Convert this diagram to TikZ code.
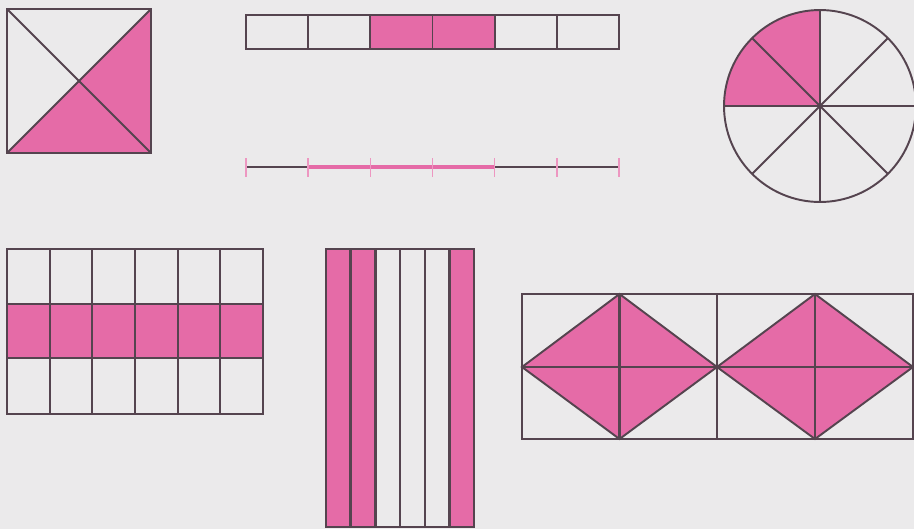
\documentclass[tikz,border=0pt]{standalone}
\usepackage{pgf,tikz}
\usetikzlibrary{arrows}
\usepackage{xcolor}
\definecolor{shade}{HTML}{E56BA7}
\definecolor{ink}{HTML}{55444F}
\definecolor{paper}{HTML}{EBEAEB}
\tikzset{
    part/.style={fill=shade},
    frame/.style={draw=ink, line width=1.6pt},
    cut/.style={draw=ink, line width=1.1pt},
    tickline/.style={draw=shade!70, line width=0.8pt},
    piece/.style={draw=shade, line width=2.2pt}
}
\begin{document}
\begin{tikzpicture}[x=0.02cm,y=-0.02cm]
    \fill[paper] (0,0) rectangle (914,529);
    \useasboundingbox (0,0) rectangle (914,529);
    % square cut in four
    \fill[part] (7,153) -- (151,9) -- (151,153) -- cycle;
    \draw[cut] (7,9) -- (151,153);
    \draw[cut] (7,153) -- (151,9);
    \draw[frame] (7,9) rectangle (151,153);
    % strip of six
    \fill[part] (370.3,15) rectangle (494.7,49);
    \draw[cut] (308.2,15) -- (308.2,49);
    \draw[cut] (370.3,15) -- (370.3,49);
    \draw[cut] (432.5,15) -- (432.5,49);
    \draw[cut] (494.7,15) -- (494.7,49);
    \draw[cut] (556.8,15) -- (556.8,49);
    \draw[frame] (246,15) rectangle (619,49);
    % segment
    \draw[cut] (246,167) -- (619,167);
    \draw[piece] (308.2,167) -- (494.7,167);
    \draw[tickline] (246,158) -- (246,177);
    \draw[tickline] (308.2,158) -- (308.2,177);
    \draw[tickline] (370.3,158) -- (370.3,177);
    \draw[tickline] (432.5,158) -- (432.5,177);
    \draw[tickline] (494.7,158) -- (494.7,177);
    \draw[tickline] (556.8,158) -- (556.8,177);
    \draw[tickline] (619,158) -- (619,177);
    % circle in eight
    \fill[part] (820,106) -- (724,106) arc[start angle=180, end angle=90, radius=1.92cm] -- cycle;
    \draw[cut] (820,106) -- ++(45:1.92cm);
    \draw[cut] (820,106) -- ++(135:1.92cm);
    \draw[cut] (820,106) -- ++(225:1.92cm);
    \draw[cut] (820,106) -- ++(315:1.92cm);
    \draw[frame] (820,106) -- ++(0:1.92cm);
    \draw[frame] (820,106) -- ++(90:1.92cm);
    \draw[frame] (820,106) -- ++(180:1.92cm);
    \draw[frame] (820,106) -- ++(270:1.92cm);
    \draw[cut] (820,106) circle (1.92cm);
    % grid 6 x 3
    \fill[part] (7,304) rectangle (263,358);
    \draw[cut] (49.7,249) -- (49.7,414);
    \draw[cut] (92.3,249) -- (92.3,414);
    \draw[cut] (135,249) -- (135,414);
    \draw[cut] (177.7,249) -- (177.7,414);
    \draw[cut] (220.3,249) -- (220.3,414);
    \draw[frame] (7,304) -- (263,304);
    \draw[frame] (7,358) -- (263,358);
    \draw[frame] (7,249) rectangle (263,414);
    % tall bars
    \fill[part] (326,249) rectangle (375.3,527);
    \fill[part] (449.3,249) rectangle (474,527);
    \draw[frame] (350.7,249) -- (350.7,527);
    \draw[frame] (375.3,249) -- (375.3,527);
    \draw[cut] (400,249) -- (400,527);
    \draw[cut] (424.7,249) -- (424.7,527);
    \draw[frame] (449.3,249) -- (449.3,527);
    \draw[frame] (326,249) rectangle (474,527);
    % two diamonds
    \fill[part] (522,367) -- (619.5,294) -- (717,367) -- (619.5,439) -- cycle;
    \fill[part] (717,367) -- (815,294) -- (913,367) -- (815,439) -- cycle;
    \draw[cut] (522,367) -- (619.5,294) -- (717,367) -- (619.5,439) -- cycle;
    \draw[cut] (717,367) -- (815,294) -- (913,367) -- (815,439) -- cycle;
    \draw[frame] (619.5,294) -- (619.5,439);
    \draw[frame] (815,294) -- (815,439);
    \draw[frame] (522,367) -- (913,367);
    \draw[cut] (717,294) -- (717,439);
    \draw[cut] (522,294) rectangle (913,439);
\end{tikzpicture}
\end{document}
